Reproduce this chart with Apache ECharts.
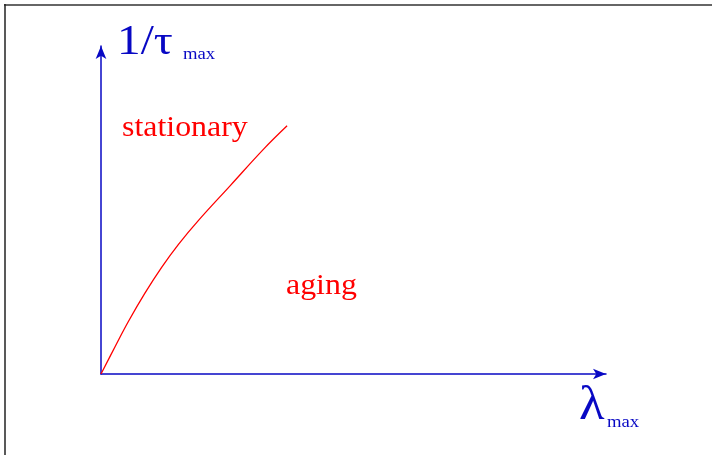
<!DOCTYPE html>
<html>
<head>
<meta charset="utf-8">
<style>
  html, body { margin: 0; padding: 0; background: #fff; }
  #chart { width: 712px; height: 455px; }
</style>
<script src="https://cdn.jsdelivr.net/npm/echarts@6/dist/echarts.min.js"></script>
</head>
<body>
<div id="chart"></div>
<script>
// Boundary curve between the stationary and aging regimes
const lambdaMax = [0, 2.78, 5.42, 8.73, 12.04, 15.34, 19.31, 25.60, 32.20, 36.85];
const invTauMax = [0, 8.30, 15.99, 24.71, 32.58, 39.54, 46.84, 57.45, 68.57, 75.68];

const regionLabels = ['stationary', 'aging'];
const yAxisName = ['1/τ', 'max'];
const xAxisName = ['λ', 'max'];

const BLUE = '#0808c4';
const RED = '#ff0000';
const SERIF = '"Liberation Serif", "DejaVu Serif", serif';

const chart = echarts.init(document.getElementById('chart'), null, { renderer: 'canvas' });

const axisCommon = {
  type: 'value',
  min: 0,
  max: 100,
  axisTick: { show: false },
  axisLabel: { show: false },
  splitLine: { show: false },
  axisLine: {
    show: true,
    onZero: false,
    symbol: ['none', 'arrow'],
    symbolSize: [8, 13],
    lineStyle: { color: BLUE, width: 1.5 }
  }
};

// slightly wide serif lettering
function label(text, x, y, size, color) {
  return {
    type: 'text', x: x, y: y, scaleX: 1.1,
    style: { text: text, font: size + 'px ' + SERIF, fill: color, verticalAlign: 'top' }
  };
}

chart.setOption({
  animation: false,
  backgroundColor: '#ffffff',
  grid: { left: 101, right: 106, top: 46, bottom: 81 },
  xAxis: axisCommon,
  yAxis: axisCommon,
  series: [{
    type: 'line',
    data: lambdaMax.map((x, i) => [x, invTauMax[i]]),
    smooth: 0.4,
    showSymbol: false,
    lineStyle: { color: RED, width: 1.3 }
  }],
  graphic: [
    // frame
    { type: 'line', shape: { x1: 4, y1: 5, x2: 712, y2: 5 }, style: { stroke: '#666', lineWidth: 2 } },
    { type: 'line', shape: { x1: 5, y1: 4, x2: 5, y2: 455 }, style: { stroke: '#222', lineWidth: 1.5 } },
    // axis names
    label(yAxisName[0], 117, 21, 43, BLUE),
    label(yAxisName[1], 183, 46, 17, BLUE),
    label(xAxisName[0], 579, 382, 48, BLUE),
    label(xAxisName[1], 607, 414, 17, BLUE),
    // region labels
    label(regionLabels[0], 122, 114, 29, RED),
    label(regionLabels[1], 286, 272, 29, RED)
  ]
});
</script>
</body>
</html>
